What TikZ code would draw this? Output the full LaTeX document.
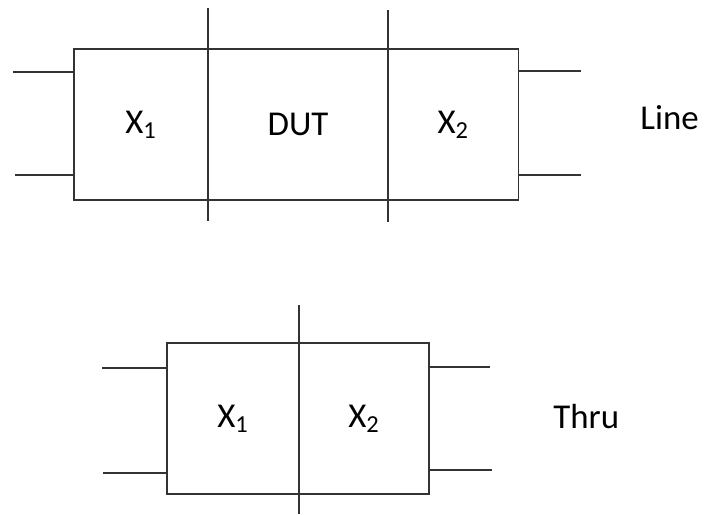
\documentclass[tikz,border=0pt]{standalone}
\usepackage{fontspec}
\setmainfont{Carlito}
\usepackage{xcolor}
\usetikzlibrary{positioning}
\definecolor{wire}{HTML}{333333}

\begin{document}
\begin{tikzpicture}[x=0.5bp,y=-0.5bp,font=\fontsize{17.5}{21}\selectfont,
  sec/.style={draw=wire,line width=0.7bp,minimum height=75.5bp,inner sep=0pt,outer sep=0pt},
  lead/.style={draw=wire,line width=0.7bp}]
\useasboundingbox (0,0) rectangle (704,515);
% Line: X1 | DUT | X2
\node[sec,minimum width=67bp,anchor=north west] (x1) at (74,49) {X\textsubscript{1}};
\node[sec,minimum width=90bp,right=0pt of x1] (dut) {DUT};
\node[sec,minimum width=65.25bp,right=0pt of dut] (x2) {X\textsubscript{2}};
\draw[lead] ([yshift=20.5bp]dut.north west) -- ([yshift=-10.5bp]dut.south west);
\draw[lead] ([yshift=19.5bp]x2.north west) -- ([yshift=-11bp]x2.south west);
\coordinate (la) at (13,72); \coordinate (lb) at (15,175);
\coordinate (ra) at (581,71); \coordinate (rb) at (581,175);
\draw[lead] (la) -- (la -| x1.west); \draw[lead] (lb) -- (lb -| x1.west);
\draw[lead] (ra -| x2.east) -- (ra); \draw[lead] (rb -| x2.east) -- (rb);
\node[anchor=base west,inner sep=0pt] (line) at (640,130) {Line};
% Thru: X1 | X2
\node[sec,minimum width=66bp,anchor=north west] (tx1) at (167,343) {X\textsubscript{1}};
\node[sec,minimum width=65bp,right=0pt of tx1] (tx2) {X\textsubscript{2}};
\draw[lead] ([yshift=19bp]tx2.north west) -- ([yshift=-10bp]tx2.south west);
\coordinate (tla) at (102,368); \coordinate (tlb) at (103,473);
\coordinate (tra) at (490,367); \coordinate (trb) at (492,470);
\draw[lead] (tla) -- (tla -| tx1.west); \draw[lead] (tlb) -- (tlb -| tx1.west);
\draw[lead] (tra -| tx2.east) -- (tra); \draw[lead] (trb -| tx2.east) -- (trb);
\node[anchor=base west,inner sep=0pt] (thru) at (553,428) {Thru};
\end{tikzpicture}
\end{document}
